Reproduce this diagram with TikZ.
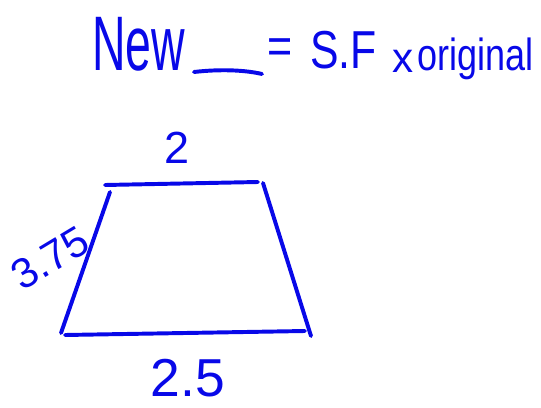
\documentclass[tikz,border=0pt]{standalone}
\usepackage{fontspec}
\setmainfont{Liberation Sans}
\usepackage{graphicx}
\usepackage{tikz}
\usetikzlibrary{positioning}
\definecolor{ink}{RGB}{8,8,232}
\newcommand{\hw}[3]{{\fontsize{#1}{#1}\selectfont\scalebox{#2}[1]{#3}}}

\begin{document}
\begin{tikzpicture}[x=0.025cm,y=-0.025cm,
  pen/.style={draw=ink,line width=2.8pt,line cap=round},
  inktext/.style={text=ink,inner sep=0pt}]
\useasboundingbox (0,0) rectangle (541,408);
\node[inktext,anchor=base west] (new) at (92,70) {\hw{55pt}{0.6}{New}};
\coordinate (b1) at (194,72);
\coordinate (b2) at (262,74);
\draw[pen] (b1) .. controls (220,69) and (245,70) .. (b2);
\node[inktext] (eq) at (280,51) {\hw{36pt}{0.85}{=}};
\node[inktext,anchor=base west] (sf) at (310,68) {\hw{38pt}{0.8}{S.F}};
\node[inktext,anchor=base west] (times) at (392,72) {\hw{30pt}{1}{x}};
\node[inktext,anchor=base west] (orig) at (417,70) {\hw{32pt}{0.8}{original}};
\coordinate (t1) at (105,185);
\coordinate (t2) at (258,182);
\coordinate (r1) at (263,183);
\coordinate (r2) at (311,336);
\coordinate (d1) at (65,335);
\coordinate (d2) at (305,331);
\coordinate (l1) at (110,192);
\coordinate (l2) at (61,333);
\draw[pen] (t1) -- (t2);
\draw[pen] (r1) -- (r2);
\draw[pen] (d1) -- (d2);
\draw[pen] (l1) -- (l2);
\node[inktext] (top) at (177,148) {\hw{32pt}{1}{2}};
\node[inktext,rotate=31] (side) at (50,258) {\hw{30pt}{1}{3.75}};
\node[inktext] (bottom) at (188,378) {\hw{38pt}{1}{2.5}};
\end{tikzpicture}
\end{document}
